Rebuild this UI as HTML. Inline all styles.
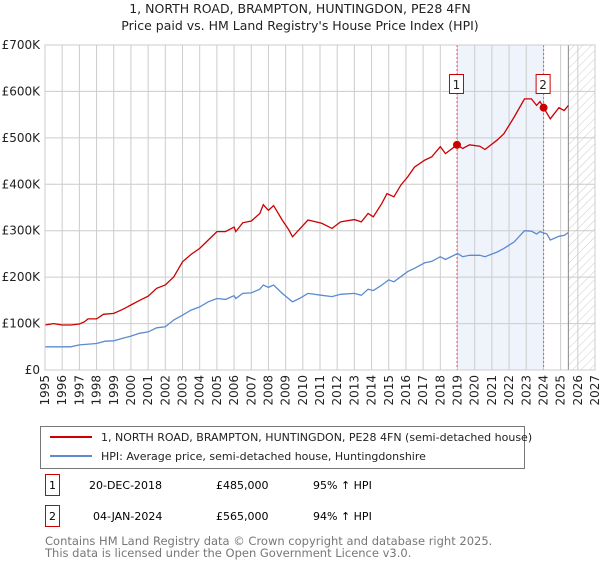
<!DOCTYPE html>
<html><head><meta charset="utf-8"><style>
body{margin:0;background:#fff;font-family:"Liberation Sans","DejaVu Sans",sans-serif;}
svg text{font-family:"DejaVu Sans","Liberation Sans",sans-serif;}
</style></head><body>
<svg id="chart" width="600" height="560" viewBox="0 0 600 560">
<defs><pattern id="hatch" width="6" height="6" patternUnits="userSpaceOnUse" patternTransform="rotate(45)"><line x1="0" y1="0" x2="0" y2="6" stroke="#ccc" stroke-width="1"/></pattern></defs>
<text x="300" y="13" text-anchor="middle" font-size="12.5" fill="#222">1, NORTH ROAD, BRAMPTON, HUNTINGDON, PE28 4FN</text>
<text x="300" y="30" text-anchor="middle" font-size="12.5" fill="#222">Price paid vs. HM Land Registry's House Price Index (HPI)</text>
<g id="plot"></g>
<rect x="40.5" y="426.5" width="484" height="42" fill="#fff" stroke="#777"/>
<line x1="50" y1="437" x2="92" y2="437" stroke="#cc0000" stroke-width="2"/>
<text x="101" y="441" font-size="11" fill="#222">1, NORTH ROAD, BRAMPTON, HUNTINGDON, PE28 4FN (semi-detached house)</text>
<line x1="50" y1="456" x2="92" y2="456" stroke="#5b8bd0" stroke-width="2"/>
<text x="101" y="460" font-size="11" fill="#222">HPI: Average price, semi-detached house, Huntingdonshire</text>
<g>
<rect x="45.5" y="474.5" width="14" height="21" fill="#fff" stroke="#cc0000"/><text x="52.5" y="489" text-anchor="middle" font-size="11">1</text>
<text x="89" y="489" font-size="11">20-DEC-2018</text><text x="216" y="489" font-size="11">£485,000</text><text x="313" y="489" font-size="11">95% ↑ HPI</text></g>
<g>
<rect x="45.5" y="505.5" width="14" height="21" fill="#fff" stroke="#cc0000"/><text x="52.5" y="520" text-anchor="middle" font-size="11">2</text>
<text x="93" y="520" font-size="11">04-JAN-2024</text><text x="216" y="520" font-size="11">£565,000</text><text x="313" y="520" font-size="11">94% ↑ HPI</text></g>
<text x="45" y="545" font-size="11.5" fill="#777">Contains HM Land Registry data © Crown copyright and database right 2025.</text>
<text x="45" y="557" font-size="11.5" fill="#777">This data is licensed under the Open Government Licence v3.0.</text>
</svg>
<script>
const yearTicks=[1995,1996,1997,1998,1999,2000,2001,2002,2003,2004,2005,2006,2007,2008,2009,2010,2011,2012,2013,2014,2015,2016,2017,2018,2019,2020,2021,2022,2023,2024,2025,2026,2027];
const valueTicks=[0,100,200,300,400,500,600,700];
const valueTickLabels=["£0","£100K","£200K","£300K","£400K","£500K","£600K","£700K"];
const propYears=[1995,1995.5,1996,1996.5,1997,1997.3,1997.5,1998,1998.4,1999,1999.5,2000,2000.5,2001,2001.5,2002,2002.5,2003,2003.5,2004,2004.5,2005,2005.5,2006,2006.1,2006.5,2007,2007.5,2007.7,2008,2008.3,2008.8,2009.2,2009.4,2009.8,2010.3,2011.1,2011.7,2012.2,2013,2013.4,2013.8,2014.1,2014.6,2014.9,2015.3,2015.7,2016.1,2016.5,2017.1,2017.5,2018,2018.3,2018.97,2019.3,2019.7,2020.3,2020.6,2021.3,2021.7,2022.3,2022.9,2023.3,2023.6,2023.8,2024.01,2024.4,2024.9,2025.2,2025.45];
const propValues=[97,100,97,97,99,104,110,110,120,122,130,140,150,159,176,183,201,233,249,262,280,298,298,308,298,317,321,337,356,344,354,323,301,287,303,323,316,305,319,324,319,337,330,359,380,373,398,416,437,452,459,481,466,485,477,485,482,475,495,509,545,584,584,570,578,565,541,565,559,570];
const hpiYears=[1995,1996,1996.5,1997,1998,1998.5,1999,1999.5,2000,2000.5,2001,2001.5,2002,2002.5,2003,2003.5,2004,2004.5,2005,2005.5,2006,2006.1,2006.5,2007,2007.5,2007.7,2008,2008.3,2008.8,2009.4,2009.8,2010.3,2011.1,2011.7,2012.2,2013,2013.4,2013.8,2014.1,2014.6,2015,2015.3,2015.7,2016.1,2016.5,2017.1,2017.5,2018,2018.3,2019,2019.3,2019.7,2020.3,2020.6,2021.3,2021.7,2022.3,2022.9,2023.3,2023.6,2023.8,2024.2,2024.4,2024.9,2025.2,2025.45];
const hpiValues=[50,50,50,54,57,62,63,68,73,79,82,91,93,108,118,129,136,147,154,152,160,154,165,166,174,183,178,183,165,147,154,165,161,158,163,165,161,174,171,183,194,190,201,212,219,231,234,244,238,251,244,247,247,244,254,262,276,300,299,293,298,293,280,288,290,296];
const saleYears=[2018.97,2024.01];
const saleValues=[485,565];
const saleLabels=["1","2"];
const forecastStart=2025.45;

const NS="http://www.w3.org/2000/svg";
const L=45,R=595,T=45,B=370;
const X=y=>L+(y-1995)/(2027-1995)*(R-L);
const Y=v=>B-v/700*(B-T);
const g=document.getElementById('plot');
function mk(tag,attrs,parent){const e=document.createElementNS(NS,tag);for(const k in attrs)e.setAttribute(k,attrs[k]);(parent||g).appendChild(e);return e;}

let e=mk('rect',{x:X(saleYears[0]),y:T,width:X(saleYears[1])-X(saleYears[0]),height:B-T,fill:'#eef3fc'});


e=mk('rect',{x:X(forecastStart),y:T,width:R-X(forecastStart),height:B-T,fill:'url(#hatch)'});


yearTicks.forEach(yr=>{
  e=mk('line',{x1:X(yr),x2:X(yr),y1:T,y2:B,stroke:'#ccc','stroke-width':1});
  
  
  const t=mk('text',{x:0,y:0,'font-size':12,fill:'#222','text-anchor':'end',transform:`translate(${X(yr)+4},${B+5}) rotate(-90)`});
  t.textContent=yr;
  
  
});
valueTicks.forEach((v,i)=>{
  e=mk('line',{x1:L,x2:R,y1:Y(v),y2:Y(v),stroke:'#ccc','stroke-width':1});
  
  
  const t=mk('text',{x:40,y:Y(v)+4,'font-size':12,fill:'#222','text-anchor':'end'});
  t.textContent=valueTickLabels[i];
  
  
});
e=mk('line',{x1:X(forecastStart),x2:X(forecastStart),y1:T,y2:B,stroke:'#888','stroke-width':1});


saleYears.forEach((yr,i)=>{
  e=mk('line',{x1:X(yr),x2:X(yr),y1:T,y2:B,stroke:'#e06060','stroke-width':1,'stroke-dasharray':'2,2'});
  
  
  e=mk('rect',{x:X(yr)-7.5,y:74.5,width:14,height:19,fill:'#fff',stroke:'#cc0000'});
  
  
  const t=mk('text',{x:X(yr)-0.5,y:89,'font-size':12,'text-anchor':'middle',fill:'#222'});
  t.textContent=saleLabels[i];
  
  
});
e=mk('path',{d:hpiYears.map((yr,i)=>(i?'L':'M')+X(yr).toFixed(1)+','+Y(hpiValues[i]).toFixed(1)).join(''),fill:'none',stroke:'#5b8bd0','stroke-width':1.3});


e=mk('path',{d:propYears.map((yr,i)=>(i?'L':'M')+X(yr).toFixed(1)+','+Y(propValues[i]).toFixed(1)).join(''),fill:'none',stroke:'#cc0000','stroke-width':1.3});


saleYears.forEach((yr,i)=>{
  e=mk('circle',{cx:X(yr),cy:Y(saleValues[i]),r:4,fill:'#cc0000'});
  
  
});
e=mk('rect',{x:L,y:T,width:R-L,height:B-T,fill:'none',stroke:'#ccc'});


</script>
</body></html>
